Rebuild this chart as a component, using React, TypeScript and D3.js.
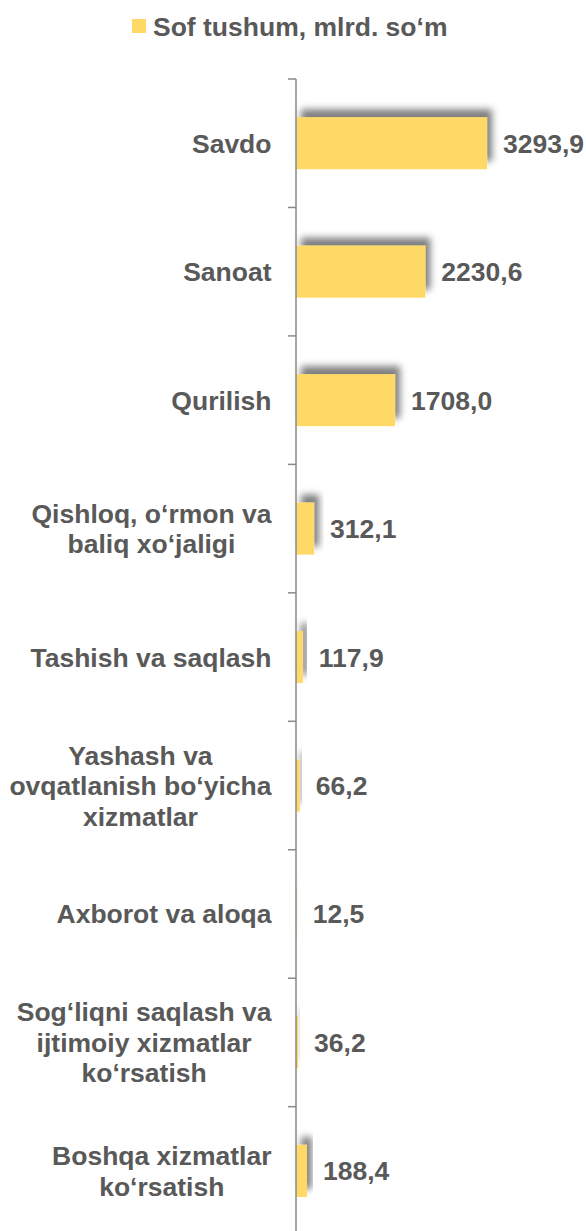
import React, { useEffect, useRef } from "react";
import * as d3 from "d3";

const categories: string[][] = [
  ["Savdo"],
  ["Sanoat"],
  ["Qurilish"],
  ["Qishloq, o‘rmon va", "baliq xo‘jaligi"],
  ["Tashish va saqlash"],
  ["Yashash va", "ovqatlanish bo‘yicha", "xizmatlar"],
  ["Axborot va aloqa"],
  ["Sog‘liqni saqlash va", "ijtimoiy xizmatlar", "ko‘rsatish"],
  ["Boshqa xizmatlar", "ko‘rsatish"],
];
const values: number[] = [3293.9, 2230.6, 1708.0, 312.1, 117.9, 66.2, 12.5, 36.2, 188.4];
const valueLabels: string[] = ["3293,9", "2230,6", "1708,0", "312,1", "117,9", "66,2", "12,5", "36,2", "188,4"];
const seriesName = "Sof tushum, mlrd. so‘m";

const W = 586;
const H = 1231;
const FONT = "'Liberation Sans', Arial, Helvetica, sans-serif";
const FS = 26.5;
const TEXT = "#595959";
const BAR = "#FFD966";
const AXIS = "#898989";

export default function App() {
  const ref = useRef<SVGSVGElement>(null);

  useEffect(() => {
    const svg = d3.select(ref.current);
    svg.selectAll("*").remove();

    const axisX = 296;
    const top = 79;
    const bottom = top + 9 * 128.46;

    const x = d3.scaleLinear().domain([0, 4000]).range([axisX, axisX + 232]);
    const y = d3
      .scaleBand<number>()
      .domain(d3.range(categories.length))
      .range([top, bottom])
      .paddingInner(0.595)
      .paddingOuter(0.2975);

    const defs = svg.append("defs");
    const f = defs
      .append("filter")
      .attr("id", "shadow")
      .attr("x", "-50%")
      .attr("y", "-50%")
      .attr("width", "200%")
      .attr("height", "200%");
    f.append("feDropShadow")
      .attr("dx", 5)
      .attr("dy", -8)
      .attr("stdDeviation", 3.5)
      .attr("flood-color", "#000")
      .attr("flood-opacity", 0.5);

    // legend
    svg
      .append("rect")
      .attr("x", 132)
      .attr("y", 19)
      .attr("width", 14)
      .attr("height", 14)
      .attr("fill", BAR);
    svg
      .append("text")
      .attr("x", 153)
      .attr("y", 35.5)
      .attr("font-family", FONT)
      .attr("font-weight", "bold")
      .attr("font-size", FS)
      .attr("fill", TEXT)
      .text(seriesName);

    // bars
    svg
      .append("g")
      .selectAll("rect")
      .data(values)
      .join("rect")
      .attr("x", x(0))
      .attr("y", (_d, i) => y(i)!)
      .attr("width", (d) => x(d) - x(0))
      .attr("height", y.bandwidth())
      .attr("fill", BAR)
      .attr("filter", "url(#shadow)");

    // axis
    const step = (bottom - top) / categories.length;
    const ticks = d3.range(categories.length + 1).map((i) => top + i * step);
    const ag = svg.append("g");
    ag.append("line")
      .attr("x1", axisX)
      .attr("x2", axisX)
      .attr("y1", top)
      .attr("y2", bottom)
      .attr("stroke", AXIS)
      .attr("stroke-width", 1.5);
    ag.selectAll("line.tick")
      .data(ticks)
      .join("line")
      .attr("class", "tick")
      .attr("x1", axisX - 8)
      .attr("x2", axisX)
      .attr("y1", (d) => d)
      .attr("y2", (d) => d)
      .attr("stroke", AXIS)
      .attr("stroke-width", 1.5);

    // category labels
    const lineH = 30.5;
    const rightEdge = 271.5;
    categories.forEach((lines, i) => {
      const cy = y(i)! + y.bandwidth() / 2;
      const g = svg.append("g");
      const texts = lines.map((ln, j) =>
        g
          .append("text")
          .attr("y", cy + 9.5 + (j - (lines.length - 1) / 2) * lineH)
          .attr("font-family", FONT)
          .attr("font-weight", "bold")
          .attr("font-size", FS)
          .attr("fill", TEXT)
          .attr("text-anchor", "middle")
          .text(ln)
      );
      const maxW = d3.max(texts, (t) => (t.node() as SVGTextElement).getComputedTextLength()) || 0;
      texts.forEach((t) => t.attr("x", rightEdge - maxW / 2));
    });

    // value labels
    svg
      .append("g")
      .selectAll("text")
      .data(values)
      .join("text")
      .attr("x", (d) => x(d) + 16)
      .attr("y", (_d, i) => y(i)! + y.bandwidth() / 2 + 9.5)
      .attr("font-family", FONT)
      .attr("font-weight", "bold")
      .attr("font-size", FS)
      .attr("fill", TEXT)
      .text((_d, i) => valueLabels[i]);
  }, []);

  return (
    <div style={{ position: "absolute", left: 0, top: 0, width: W, height: H, overflow: "hidden", background: "#fff" }}>
      <svg ref={ref} width={W} height={H} style={{ display: "block" }} />
    </div>
  );
}
